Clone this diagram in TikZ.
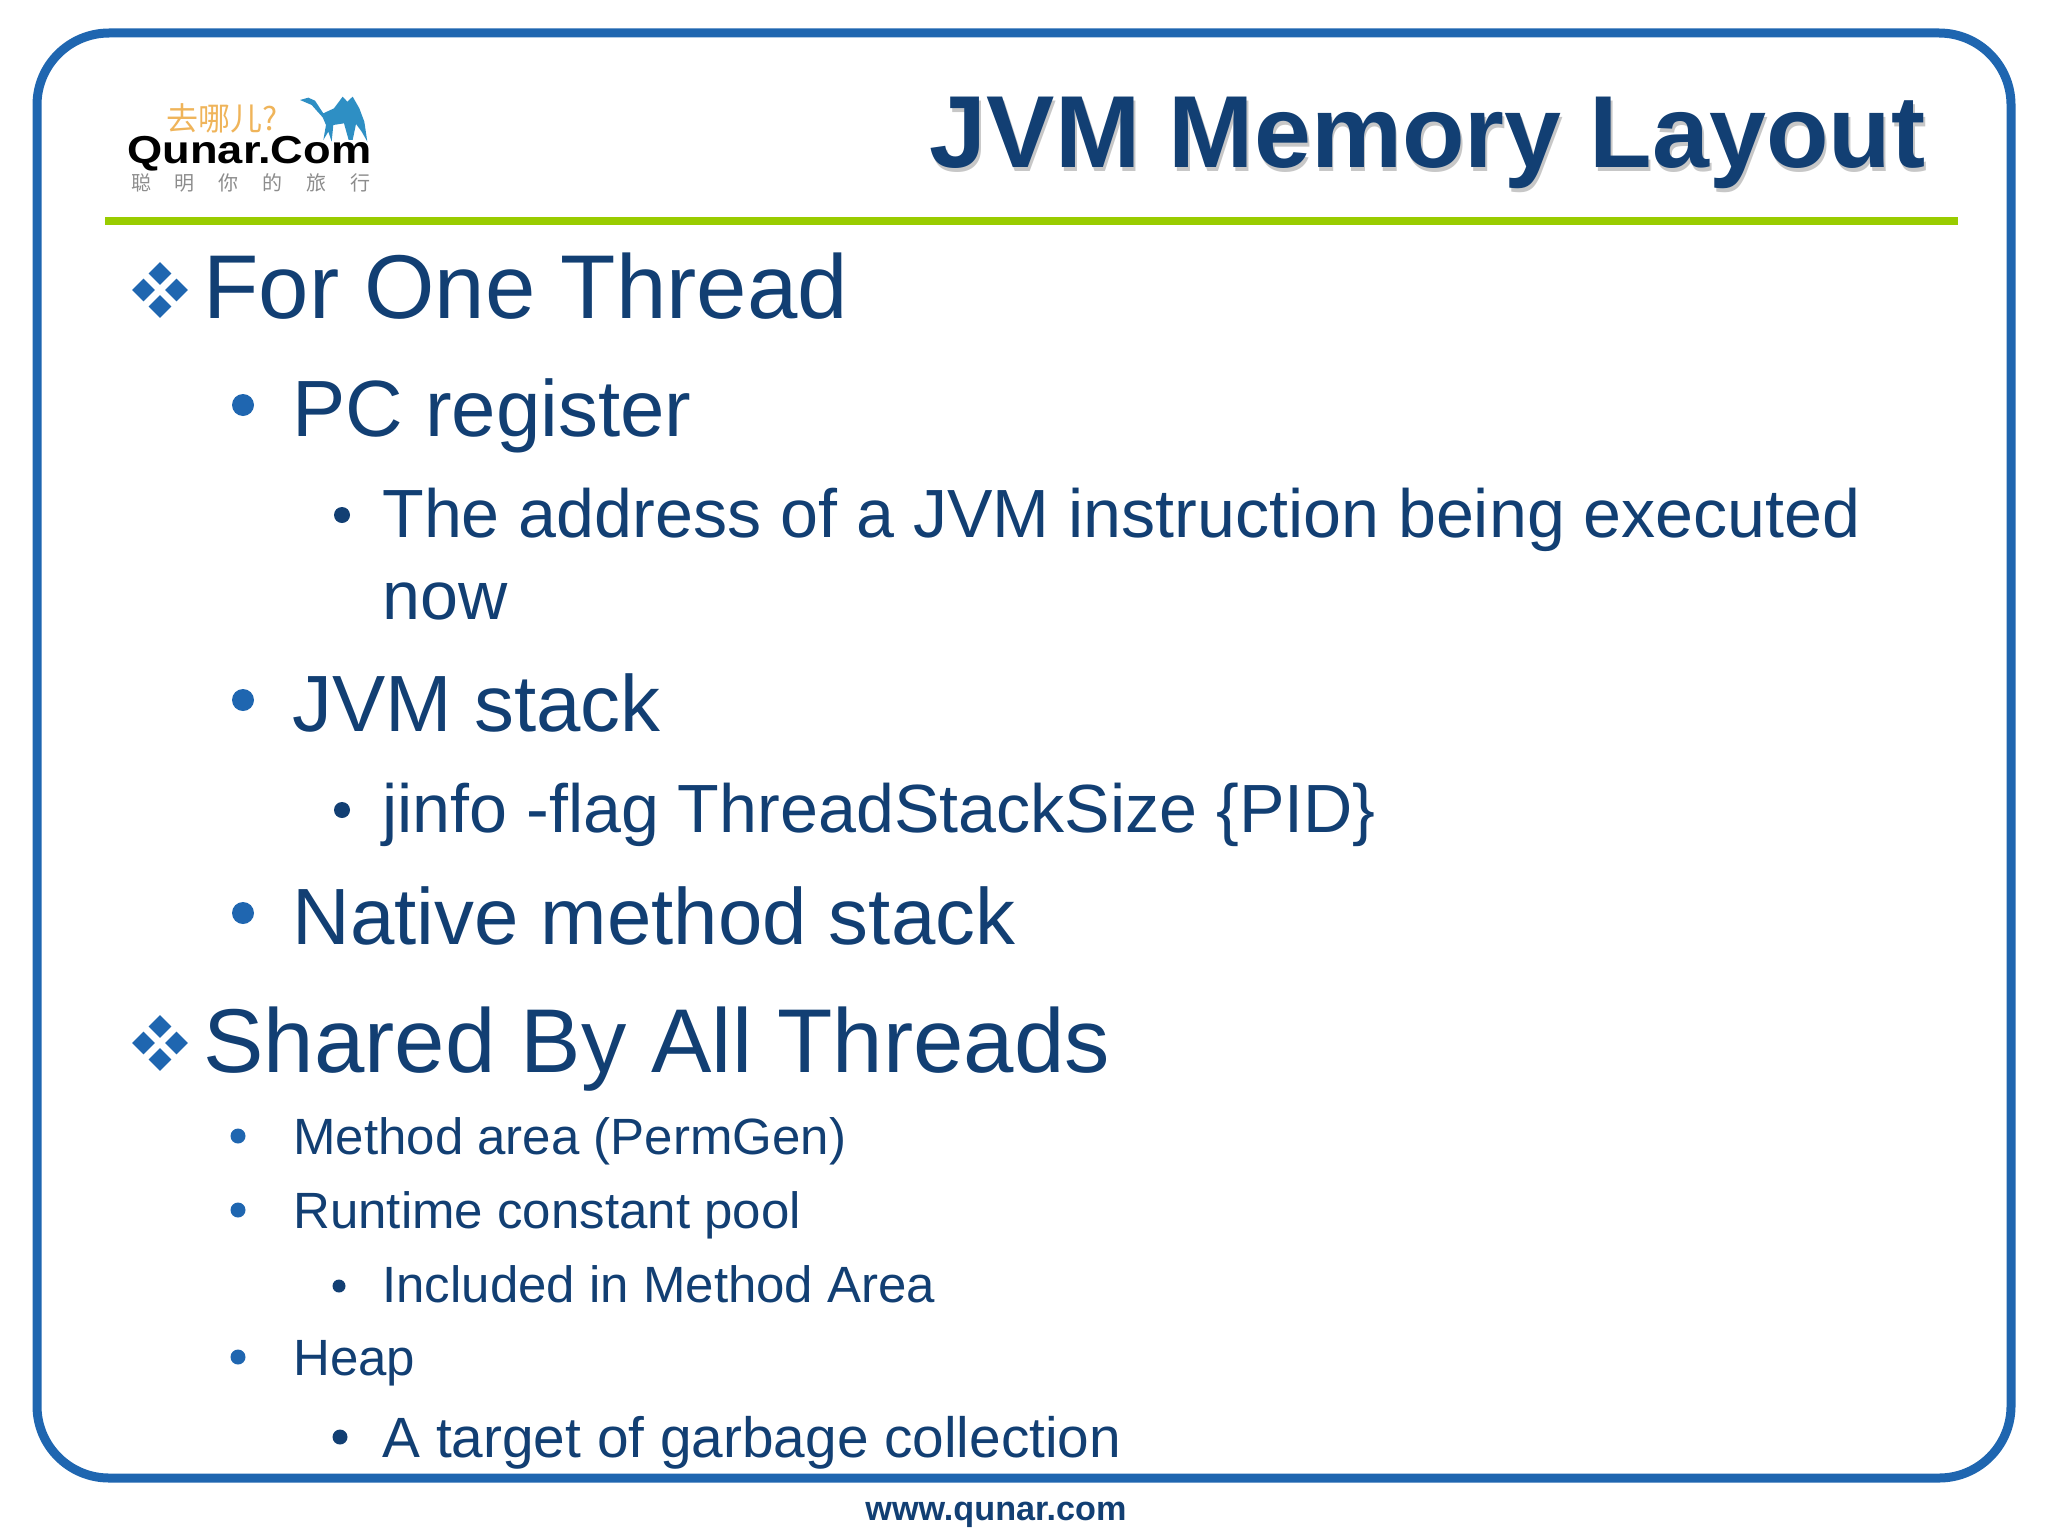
\documentclass[tikz,border=0pt]{standalone}
\usepackage{fontspec}
\setmainfont{Liberation Sans}
\newfontfamily\cjk{Noto Sans CJK SC}
\usetikzlibrary{shapes.geometric}
\definecolor{slideblue}{HTML}{1F66B0}
\definecolor{inkblue}{HTML}{123F73}
\definecolor{rulegreen}{HTML}{99CC00}
\definecolor{camelblue}{HTML}{2E8FC4}
\definecolor{logoorange}{HTML}{EFB45A}
\tikzset{
    item/.style={anchor=base west,inner sep=0pt,text=inkblue},
    lvlone/.style={item,font=\fontsize{45.3}{50}\selectfont},
    lvltwo/.style={item,font=\fontsize{39.9}{44}\selectfont},
    lvlthree/.style={item,font=\fontsize{34.1}{38}\selectfont},
    smalltwo/.style={item,font=\fontsize{25.5}{30}\selectfont},
    smallthree/.style={item,font=\fontsize{25.5}{30}\selectfont},
    dot/.style={circle,fill=#1,inner sep=0pt},
    diamondbit/.style={diamond,fill=slideblue,inner sep=0pt,minimum size=11.5pt},
}
\newcommand{\fourbits}[3]{%
    \node[diamondbit] (#1n) at (#2,#3-16.5) {};
    \node[diamondbit] (#1s) at (#2,#3+16.5) {};
    \node[diamondbit] (#1w) at (#2-16.5,#3) {};
    \node[diamondbit] (#1e) at (#2+16.5,#3) {};
}
\begin{document}
\begin{tikzpicture}[x=0.5pt,y=-0.5pt]
    \useasboundingbox (0,0) rectangle (2048,1536);
    \draw[slideblue,line width=4.5pt,rounded corners=36pt] (37,33) rectangle (2011,1478);
    \draw[rulegreen,line width=4pt] (105,220.5) -- (1958,220.5);

    % logo
    \node[inner sep=0pt,text=logoorange,font=\cjk\fontsize{16}{16}\selectfont] (where) at (222,118) {去哪儿?};
    \node[inner sep=0pt,anchor=base west,font=\fontsize{19.5}{20}\selectfont\bfseries,xscale=1.16] (qunar) at (127,163) {Qunar.Com};
    \foreach \ch [count=\i] in {聪,明,你,的,旅,行}
        \node[inner sep=0pt,text=black!45,font=\cjk\fontsize{10}{10}\selectfont] (slogan\i) at ({141+(\i-1)*43.8},183) {\ch};
    \begin{scope}[shift={(80,60)},xscale=1/3,yscale=1/3]
        \fill[camelblue] (660,120) -- (685,113) -- (705,122) -- (730,160) -- (762,145) -- (788,110) -- (802,125) -- (818,110) -- (838,145) -- (853,185) -- (862,245) -- (845,215) -- (828,192) -- (818,240) -- (806,240) -- (792,190) -- (760,195) -- (755,245) -- (745,215) -- (730,240) -- (738,195) -- (728,172) -- (695,135) -- cycle;
    \end{scope}

    % title
    \node[anchor=base east,inner sep=0pt,text=black!22,font=\fontsize{51.2}{56}\selectfont\bfseries] (titleshade) at (1928,171) {JVM Memory Layout};
    \node[anchor=base east,inner sep=0pt,text=inkblue,font=\fontsize{51.2}{56}\selectfont\bfseries] (title) at (1926,167) {JVM Memory Layout};

    % for one thread
    \fourbits{first}{160}{290}
    \node[lvlone] (thread) at (203,318) {For One Thread};
    \node[dot=slideblue,minimum size=11pt] (bpc) at (243,405) {};
    \node[lvltwo] (pc) at (292,436) {PC register};
    \node[dot=inkblue,minimum size=8pt] (baddr) at (342,515) {};
    \node[lvlthree] (addr) at (382,537) {The address of a JVM instruction being executed};
    \node[lvlthree] (now) at (382,619) {now};
    \node[dot=slideblue,minimum size=11pt] (bstack) at (243,700) {};
    \node[lvltwo] (stack) at (292,731) {JVM stack};
    \node[dot=inkblue,minimum size=8pt] (bjinfo) at (342,810) {};
    \node[lvlthree] (jinfo) at (382,832) {jinfo -flag ThreadStackSize \{PID\}};
    \node[dot=slideblue,minimum size=11pt] (bnative) at (243,913) {};
    \node[lvltwo] (native) at (292,944) {Native method stack};

    % shared by all
    \fourbits{second}{160}{1043}
    \node[lvlone] (shared) at (203,1072) {Shared By All Threads};
    \node[dot=slideblue,minimum size=7.5pt] (bmethod) at (238,1136) {};
    \node[smalltwo] (method) at (293,1154) {Method area (PermGen)};
    \node[dot=slideblue,minimum size=7.5pt] (bruntime) at (238,1210) {};
    \node[smalltwo] (runtime) at (293,1228) {Runtime constant pool};
    \node[dot=inkblue,minimum size=6.5pt] (bincl) at (339,1286) {};
    \node[smallthree] (incl) at (382,1302) {Included in Method Area};
    \node[dot=slideblue,minimum size=7.5pt] (bheap) at (238,1357) {};
    \node[smalltwo] (heap) at (293,1375) {Heap};
    \node[dot=inkblue,minimum size=7.5pt] (btarget) at (340,1437) {};
    \node[item,font=\fontsize{28.4}{32}\selectfont] (target) at (382,1457) {A target of garbage collection};

    \node[anchor=base west,inner sep=0pt,text=inkblue,font=\fontsize{17.1}{20}\selectfont\bfseries] (web) at (865,1520) {www.qunar.com};
\end{tikzpicture}
\end{document}
